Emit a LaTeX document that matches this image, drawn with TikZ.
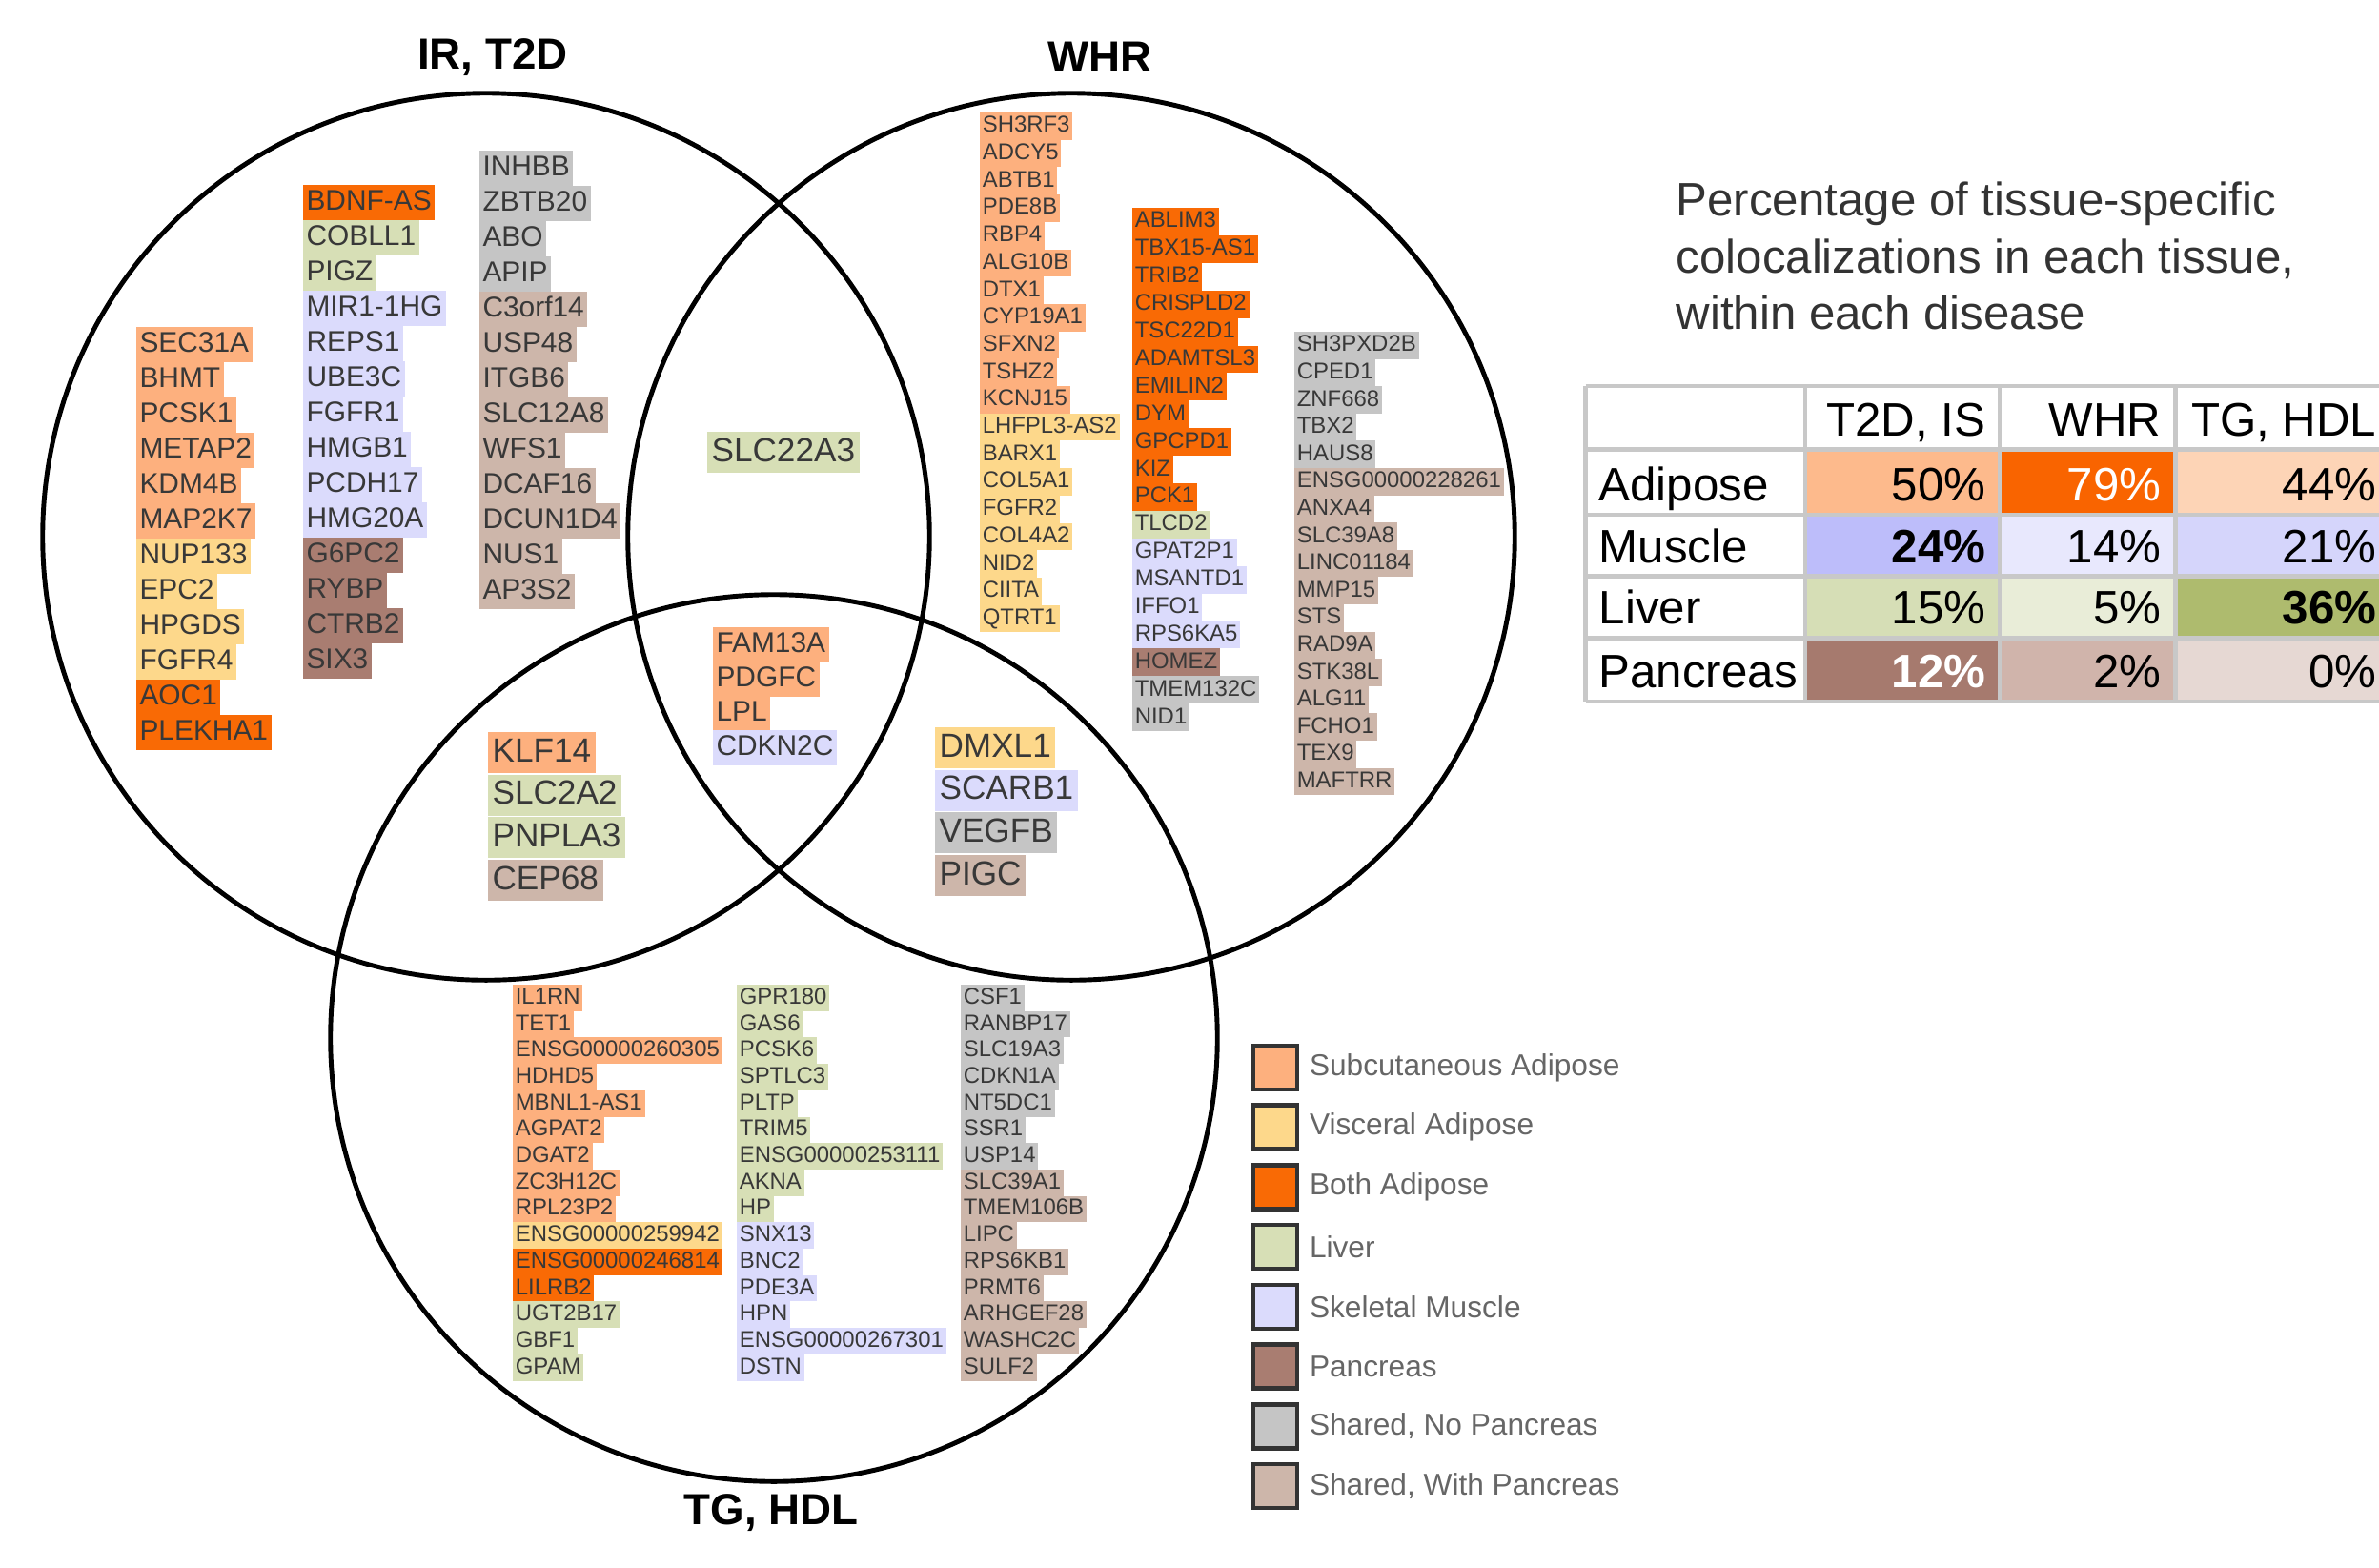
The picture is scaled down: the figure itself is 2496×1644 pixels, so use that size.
\documentclass[tikz,border=0pt]{standalone}
\usepackage{fontspec}
\setmainfont{Liberation Sans}
\usetikzlibrary{positioning}

% tissue colours
\definecolor{subq}{HTML}{FDB07E}
\definecolor{visc}{HTML}{FDD88B}
\definecolor{both}{HTML}{F96A05}
\definecolor{liver}{HTML}{D7DFB6}
\definecolor{muscle}{HTML}{DBDBFC}
\definecolor{panc}{HTML}{A97D71}
\definecolor{shno}{HTML}{C5C5C5}
\definecolor{shwith}{HTML}{CDB6AA}
% table colours
\definecolor{tAa}{HTML}{FDBA8C}
\definecolor{tAb}{HTML}{F96400}
\definecolor{tAc}{HTML}{FDD4B6}
\definecolor{tMa}{HTML}{BDBDFA}
\definecolor{tMb}{HTML}{E8E8FD}
\definecolor{tMc}{HTML}{D5D5FB}
\definecolor{tLa}{HTML}{D6DEB6}
\definecolor{tLb}{HTML}{E9EDD8}
\definecolor{tLc}{HTML}{AEBB6E}
\definecolor{tPa}{HTML}{A67A6E}
\definecolor{tPb}{HTML}{D0B4AB}
\definecolor{tPc}{HTML}{E6D8D3}
\definecolor{gridgray}{HTML}{C8C8C8}

\tikzset{
    gene/.style={fill=#1, anchor=north west, inner xsep=1pt, inner ysep=0pt, outer sep=0pt, text=black!78},
    gmid/.style={gene=#1, minimum height=0.37cm, text height=6.3pt, text depth=1.6pt, font=\fontsize{8.5}{10}\selectfont},
    gbig/.style={gene=#1, inner xsep=1.3pt, minimum height=0.43cm, text height=7.3pt, text depth=1.9pt, font=\fontsize{10}{12}\selectfont},
    gsmall/.style={gene=#1, inner xsep=0.8pt, minimum height=0.29cm, text height=5pt, text depth=1.3pt, font=\fontsize{6.8}{8}\selectfont},
}

\begin{document}
\begin{tikzpicture}[x=0.01cm, y=-0.01cm,
    venn/.style={line width=1.4pt},
    ttl/.style={font=\bfseries\fontsize{13}{15}\selectfont},
    grid/.style={draw=gridgray, line width=1.4pt},
    pct/.style={font=\fontsize{14}{16}\selectfont, inner sep=0pt},
    pctb/.style={pct, font=\bfseries\fontsize{14}{16}\selectfont},
    pctw/.style={pct, text=white},
    pctwb/.style={pctb, text=white},
    legbox/.style={draw=black!80, line width=1.3pt, minimum size=0.46cm, inner sep=0pt},
    legtxt/.style={font=\fontsize{9}{11}\selectfont, text=black!60, inner sep=0pt}]

    \useasboundingbox (0,0) rectangle (2496,1644);

    % Polomer kruhu
    \def\R{4.65cm}

    % 1. Kruhy a nadpisy
    \coordinate (irc) at (510,563);
    \coordinate (whrc) at (1124,563);
    \coordinate (tgc) at (812,1089);
    \draw[venn] (irc) circle[radius=\R];
    \draw[venn] (whrc) circle[radius=\R];
    \draw[venn] (tgc) circle[radius=\R];

    \node[ttl] (irt) at (517,60) {IR, T2D};
    \node[ttl] (whrt) at (1154,60) {WHR};
    \node[ttl] (tgt) at (809,1587) {TG, HDL};

    % 2. IR, T2D only
    \foreach \gn/\col [count=\i] in {SEC31A/subq, BHMT/subq, PCSK1/subq, METAP2/subq, KDM4B/subq, MAP2K7/subq, NUP133/visc, EPC2/visc, HPGDS/visc, FGFR4/visc, AOC1/both, PLEKHA1/both}
        \node[gmid=\col] (irA\i) at (143, {343+(\i-1)*37}) {\gn};
    \foreach \gn/\col [count=\i] in {BDNF-AS/both, COBLL1/liver, PIGZ/liver, MIR1-1HG/muscle, REPS1/muscle, UBE3C/muscle, FGFR1/muscle, HMGB1/muscle, PCDH17/muscle, HMG20A/muscle, G6PC2/panc, RYBP/panc, CTRB2/panc, SIX3/panc}
        \node[gmid=\col] (irB\i) at (318, {194+(\i-1)*37}) {\gn};
    \foreach \gn/\col [count=\i] in {INHBB/shno, ZBTB20/shno, ABO/shno, APIP/shno, C3orf14/shwith, USP48/shwith, ITGB6/shwith, SLC12A8/shwith, WFS1/shwith, DCAF16/shwith, DCUN1D4/shwith, NUS1/shwith, AP3S2/shwith}
        \node[gmid=\col] (irC\i) at (503, {158+(\i-1)*37}) {\gn};

    % 3. Prekryvy
    \node[gbig=liver] (irwhr) at (742,453) {SLC22A3};
    \foreach \gn/\col [count=\i] in {FAM13A/subq, PDGFC/subq, LPL/subq, CDKN2C/muscle}
        \node[gmid=\col] (all\i) at (748, {658+(\i-1)*36}) {\gn};
    \foreach \gn/\col [count=\i] in {KLF14/subq, SLC2A2/liver, PNPLA3/liver, CEP68/shwith}
        \node[gbig=\col] (irtg\i) at (512, {768+(\i-1)*44.7}) {\gn};
    \foreach \gn/\col [count=\i] in {DMXL1/visc, SCARB1/muscle, VEGFB/shno, PIGC/shwith}
        \node[gbig=\col] (whrtg\i) at (981, {763+(\i-1)*44.7}) {\gn};

    % 4. WHR only
    \foreach \gn/\col [count=\i] in {SH3RF3/subq, ADCY5/subq, ABTB1/subq, PDE8B/subq, RBP4/subq, ALG10B/subq, DTX1/subq, CYP19A1/subq, SFXN2/subq, TSHZ2/subq, KCNJ15/subq, LHFPL3-AS2/visc, BARX1/visc, COL5A1/visc, FGFR2/visc, COL4A2/visc, NID2/visc, CIITA/visc, QTRT1/visc}
        \node[gsmall=\col, minimum height=0.287cm] (whrA\i) at (1028, {118+(\i-1)*28.7}) {\gn};
    \foreach \gn/\col [count=\i] in {ABLIM3/both, TBX15-AS1/both, TRIB2/both, CRISPLD2/both, TSC22D1/both, ADAMTSL3/both, EMILIN2/both, DYM/both, GPCPD1/both, KIZ/both, PCK1/both, TLCD2/liver, GPAT2P1/muscle, MSANTD1/muscle, IFFO1/muscle, RPS6KA5/muscle, HOMEZ/panc, TMEM132C/shno, NID1/shno}
        \node[gsmall=\col, minimum height=0.289cm] (whrB\i) at (1188, {218+(\i-1)*28.9}) {\gn};
    \foreach \gn/\col [count=\i] in {SH3PXD2B/shno, CPED1/shno, ZNF668/shno, TBX2/shno, HAUS8/shno, ENSG00000228261/shwith, ANXA4/shwith, SLC39A8/shwith, LINC01184/shwith, MMP15/shwith, STS/shwith, RAD9A/shwith, STK38L/shwith, ALG11/shwith, FCHO1/shwith, TEX9/shwith, MAFTRR/shwith}
        \node[gsmall=\col, minimum height=0.286cm] (whrC\i) at (1358, {348+(\i-1)*28.6}) {\gn};

    % 5. TG, HDL only
    \foreach \gn/\col [count=\i] in {IL1RN/subq, TET1/subq, ENSG00000260305/subq, HDHD5/subq, MBNL1-AS1/subq, AGPAT2/subq, DGAT2/subq, ZC3H12C/subq, RPL23P2/subq, ENSG00000259942/visc, ENSG00000246814/both, LILRB2/both, UGT2B17/liver, GBF1/liver, GPAM/liver}
        \node[gsmall=\col, minimum height=0.277cm] (tgA\i) at (538, {1033+(\i-1)*27.7}) {\gn};
    \foreach \gn/\col [count=\i] in {GPR180/liver, GAS6/liver, PCSK6/liver, SPTLC3/liver, PLTP/liver, TRIM5/liver, ENSG00000253111/liver, AKNA/liver, HP/liver, SNX13/muscle, BNC2/muscle, PDE3A/muscle, HPN/muscle, ENSG00000267301/muscle, DSTN/muscle}
        \node[gsmall=\col, minimum height=0.277cm] (tgB\i) at (773, {1033+(\i-1)*27.7}) {\gn};
    \foreach \gn/\col [count=\i] in {CSF1/shno, RANBP17/shno, SLC19A3/shno, CDKN1A/shno, NT5DC1/shno, SSR1/shno, USP14/shno, SLC39A1/shwith, TMEM106B/shwith, LIPC/shwith, RPS6KB1/shwith, PRMT6/shwith, ARHGEF28/shwith, WASHC2C/shwith, SULF2/shwith}
        \node[gsmall=\col, minimum height=0.277cm] (tgC\i) at (1008, {1033+(\i-1)*27.7}) {\gn};

    % 6. Tabulka
    \node[anchor=base west, align=left, inner sep=0pt, text=black!80, font=\fontsize{14}{16.9}\selectfont] (tabt) at (1758,345.7)
        {Percentage of tissue-specific\\colocalizations in each tissue,\\within each disease};

    \foreach \ya/\yb/\ca/\cb/\cc in {471.5/540/tAa/tAb/tAc, 540/604.7/tMa/tMb/tMc, 604.7/669.4/tLa/tLb/tLc, 669.4/736/tPa/tPb/tPc} {
        \fill[\ca] (1894,\ya) rectangle (2098,\yb);
        \fill[\cb] (2098,\ya) rectangle (2282.5,\yb);
        \fill[\cc] (2282.5,\ya) rectangle (2496,\yb);
    }
    \foreach \y in {405,471.5,540,604.7,669.4,736}
        \draw[grid] (1663.5,\y) -- (2496,\y);
    \foreach \x in {1663.5,1894,2098,2282.5}
        \draw[grid] (\x,405) -- (\x,736);

    \foreach \x/\lab [count=\i] in {2084/{T2D, IS}, 2268/WHR, 2494/{TG, HDL}}
        \node[pct, anchor=base east] (head\i) at (\x,457) {\lab};
    \foreach \lab/\y [count=\i] in {Adipose/525, Muscle/590, Liver/654.6, Pancreas/721}
        \node[pct, anchor=base west] (row\i) at (1677,\y) {\lab};
    \foreach \x/\y/\v/\s [count=\i] in {2084/525/50/pct, 2268/525/79/pctw, 2494/525/44/pct,
                                        2084/590/24/pctb, 2268/590/14/pct, 2494/590/21/pct,
                                        2084/654.6/15/pct, 2268/654.6/5/pct, 2494/654.6/36/pctb,
                                        2084/721/12/pctwb, 2268/721/2/pct, 2494/721/0/pct}
        \node[\s, anchor=base east] (val\i) at (\x,\y) {\v\%};

    % 7. Legenda
    \foreach \col/\txt [count=\i] in {subq/Subcutaneous Adipose, visc/Visceral Adipose, both/Both Adipose, liver/Liver, muscle/Skeletal Muscle, panc/Pancreas, {shno/Shared, No Pancreas}, {shwith/Shared, With Pancreas}} {
        \node[legbox, fill=\col] (leg\i) at (1338, {1120+(\i-1)*62.7}) {};
        \node[legtxt, right=0.1cm of leg\i] (legt\i) {\txt};
    }

\end{tikzpicture}
\end{document}
